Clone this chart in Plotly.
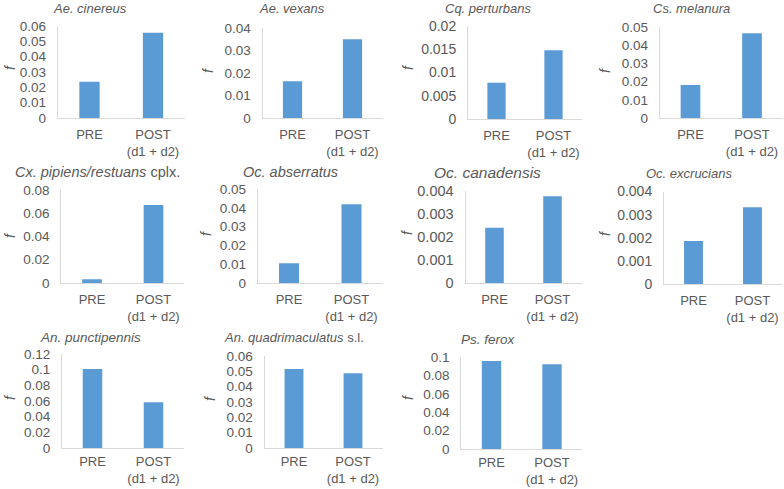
import plotly.graph_objects as go

# ---- data ----
titles = ["<i>Ae. cinereus</i>", "<i>Ae. vexans</i>", "<i>Cq. perturbans</i>", "<i>Cs. melanura</i>",
          "<i>Cx. pipiens/restuans</i> cplx.", "<i>Oc. abserratus</i>", "<i>Oc. canadensis</i>", "<i>Oc. excrucians</i>",
          "<i>An. punctipennis</i>", "<i>An. quadrimaculatus</i> s.l.", "<i>Ps. ferox</i>"]
categories = ["PRE", "POST<br>(d1 + d2)"]
pre_vals = [0.0237, 0.0163, 0.0078, 0.0182, 0.0033, 0.0105, 0.0024, 0.00186, 0.101, 0.0515, 0.0957]
post_vals = [0.0556, 0.0350, 0.0148, 0.0465, 0.0672, 0.0419, 0.00377, 0.00332, 0.0583, 0.0487, 0.0920]
y_max = [0.06, 0.04, 0.02, 0.05, 0.08, 0.05, 0.004, 0.004, 0.12, 0.06, 0.1]
y_dtick = [0.01, 0.01, 0.005, 0.01, 0.02, 0.01, 0.001, 0.001, 0.02, 0.01, 0.02]

# ---- layout geometry (pixels) ----
W, H = 784, 489
x_px = [(57.75, 184.75), (262.5, 382.5), (468, 582), (659.75, 782.75),
        (61.25, 184.25), (257.75, 382.75), (465.5, 581.5), (664, 782),
        (62, 184), (264.5, 382.5), (461.25, 582.25)]
y_px = [(26, 118), (28, 118), (26, 119), (27, 118),
        (190, 283), (189, 283), (191, 283), (191.5, 284),
        (354, 448), (356, 448), (357, 449)]
title_pos = [(90, 8), (292, 8), (488, 8), (691, 8),
             (97, 172), (290, 172), (487, 172), (689, 173),
             (90, 337), (294, 337), (488, 339)]
title_size = [13, 13, 13, 13, 14.5, 14.5, 15.5, 13, 13.5, 13, 13.5]
tick_size = [13.5, 13.5, 14, 13.5, 13.5, 13.5, 14.5, 14, 13.5, 13.5, 13.5]
x_standoff = [4, 4, 4, 4, 4, 4, 4, 4, 1, 1, 1]
f_pos = [(10, 67), (208, 70), (408, 67), (605, 70),
         (10, 235), (206, 233), (407, 232), (605, 233),
         (10, 397), (210, 398), (408, 397)]

FONT = "Liberation Sans, Arial, sans-serif"
TXT = "#595959"
BAR = "#5B9BD5"
LINE = "#D9D9D9"

fig = go.Figure()
layout = dict(width=W, height=H, autosize=False,
              margin=dict(l=0, r=0, t=0, b=0, pad=0, autoexpand=False),
              paper_bgcolor="white", plot_bgcolor="white", showlegend=False,
              font=dict(family=FONT, size=13, color=TXT))
annotations = []

for i in range(len(titles)):
    n = "" if i == 0 else str(i + 1)
    fig.add_trace(go.Bar(x=categories, y=[pre_vals[i], post_vals[i]],
                         marker=dict(color=BAR, line=dict(width=0)), width=0.32,
                         xaxis="x" + n, yaxis="y" + n, hoverinfo="skip"))
    x0, x1 = x_px[i]
    t, b = y_px[i]
    layout["xaxis" + n] = dict(domain=[x0 / W, x1 / W], anchor="y" + n, automargin=False,
                               range=[-0.5, 1.5], showline=True, linecolor=LINE, linewidth=1,
                               showgrid=False, zeroline=False, ticks="", fixedrange=True,
                               ticklabelstandoff=x_standoff[i],
                               tickfont=dict(family=FONT, size=13, color=TXT))
    layout["yaxis" + n] = dict(domain=[1 - b / H, 1 - t / H], anchor="x" + n, automargin=False,
                               range=[0, y_max[i]], dtick=y_dtick[i], tick0=0,
                               showline=True, linecolor=LINE, linewidth=1,
                               showgrid=False, zeroline=False, ticks="",
                               ticklabelstandoff=8,
                               tickfont=dict(family=FONT, size=tick_size[i], color=TXT))
    tx, ty = title_pos[i]
    annotations.append(dict(text=titles[i], x=tx / W, y=1 - ty / H, xref="paper", yref="paper",
                            xanchor="center", yanchor="middle", showarrow=False,
                            font=dict(family=FONT, size=title_size[i], color=TXT)))
    fx, fy = f_pos[i]
    annotations.append(dict(text="<i>f</i>", x=fx / W, y=1 - fy / H, xref="paper", yref="paper",
                            xanchor="center", yanchor="middle", showarrow=False, textangle=-90,
                            font=dict(family=FONT, size=14, color=TXT)))

layout["annotations"] = annotations
fig.update_layout(**layout)
fig.write_html("out.html")
